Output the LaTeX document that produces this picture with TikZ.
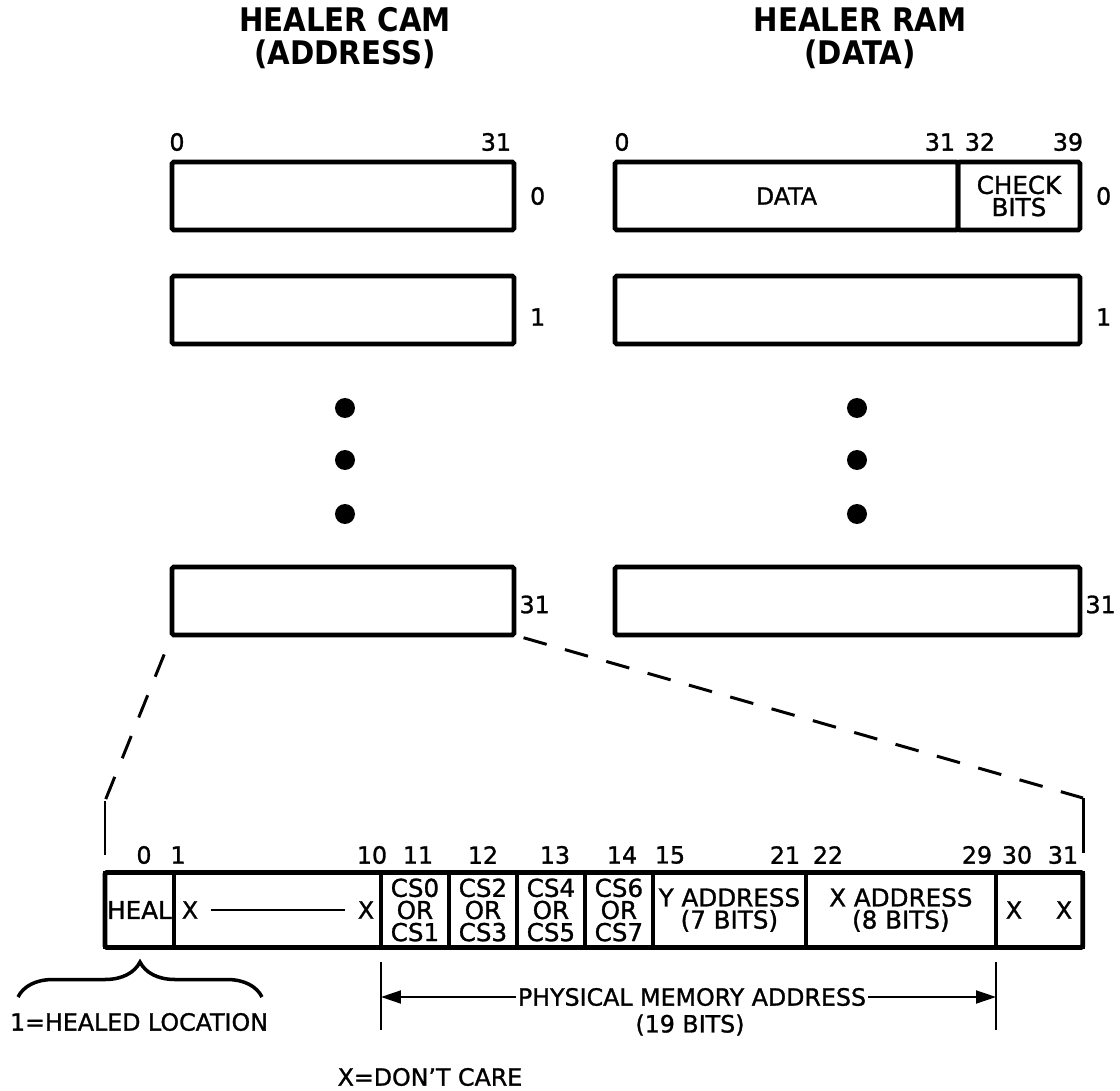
\documentclass[tikz,border=0pt]{standalone}
\usepackage{fontspec}
\setmainfont{DejaVu Sans}[FakeBold=1.2]
\newfontfamily\titlefam{DejaVu Sans Condensed}
\usepackage{tikz}
\usetikzlibrary{positioning,arrows.meta,decorations.pathreplacing}
\newcommand{\numfont}{\fontsize{13.5}{14}\selectfont}
\newcommand{\fieldfont}{\fontsize{14}{12.6}\selectfont}
\newcommand{\titlefont}{\titlefam\fontsize{18.5}{18.7}\selectfont\bfseries}
\tikzstyle{membox} = [draw, line width=2.7pt, rectangle, rounded corners=1pt, minimum height=1.36cm, inner sep=0pt, outer sep=0pt, font=\numfont]
\tikzstyle{field} = [draw, line width=2pt, rectangle, minimum height=1.5cm, inner sep=0pt, outer sep=0pt, align=center, font=\fieldfont]
\tikzstyle{bitnum} = [font=\numfont, inner sep=1pt]
\tikzstyle{memtitle} = [font=\titlefont, align=center, inner sep=0pt]
\tikzstyle{dot} = [circle, fill, minimum size=0.4cm, inner sep=0pt]
\tikzstyle{zoomline} = [line width=1.7pt, dash pattern=on 0.48cm off 0.4cm]
\tikzstyle{arrowline} = [line width=1.1pt, -{Triangle[length=0.4cm,width=0.26cm]}]

\begin{document}
\begin{tikzpicture}[x=0.02cm,y=-0.02cm]
\useasboundingbox (0,0) rectangle (1120,1091);

% titles
\node[memtitle] (camtitle) at (345,38) {HEALER CAM\\(ADDRESS)};
\node[memtitle] (ramtitle) at (860,38) {HEALER RAM\\(DATA)};

% CAM words
\node[membox, minimum width=6.84cm] (cam0) at (343,196) {};
\node[membox, minimum width=6.84cm] (cam1) at (343,310) {};
\node[membox, minimum width=6.84cm] (cam31) at (343,601) {};
\node[bitnum] (camb0) at (177,142) {0};
\node[bitnum] (camb31) at (496,142) {31};
\node[bitnum, right=8pt of cam0] (camw0) {0};
\node[bitnum, right=8pt of cam1, yshift=-4pt] (camw1) {1};
\node[bitnum, right=2pt of cam31, yshift=-2pt] (camw31) {31};
\foreach \y/\n in {408/1,460/2,514/3}
  \node[dot] (camdot\n) at (345,\y) {};

% RAM words
\node[membox, minimum width=6.86cm] (ram0data) at (786.5,196) {DATA};
\node[membox, minimum width=2.44cm, right=0pt of ram0data, align=center, font=\fieldfont] (ram0chk) {CHECK\\BITS};
\node[membox, minimum width=9.3cm] (ram1) at (847.5,310) {};
\node[membox, minimum width=9.3cm] (ram31) at (847.5,601) {};
\node[bitnum] (ramb0) at (622,142) {0};
\node[bitnum] (ramb31) at (940,142) {31};
\node[bitnum] (ramb32) at (980,142) {32};
\node[bitnum] (ramb39) at (1068,142) {39};
\node[bitnum, right=8pt of ram0chk] (ramw0) {0};
\node[bitnum, right=8pt of ram1, yshift=-4pt] (ramw1) {1};
\node[bitnum, right=2pt of ram31, yshift=-2pt] (ramw31) {31};
\foreach \y/\n in {408/1,460/2,514/3}
  \node[dot] (ramdot\n) at (857,\y) {};

% expanded CAM word
\node[field, minimum width=1.38cm] (heal) at (139.5,910) {HEAL};
\node[field, minimum width=4.14cm, right=0pt of heal] (xs) {};
\node[field, minimum width=1.36cm, right=0pt of xs] (cs0) {CS0\\OR\\CS1};
\node[field, minimum width=1.36cm, right=0pt of cs0] (cs2) {CS2\\OR\\CS3};
\node[field, minimum width=1.36cm, right=0pt of cs2] (cs4) {CS4\\OR\\CS5};
\node[field, minimum width=1.36cm, right=0pt of cs4] (cs6) {CS6\\OR\\CS7};
\node[field, minimum width=3.06cm, right=0pt of cs6] (yaddr) {Y ADDRESS\\(7 BITS)};
\node[field, minimum width=3.8cm, right=0pt of yaddr] (xaddr) {X ADDRESS\\(8 BITS)};
\node[field, minimum width=1.74cm, right=0pt of xaddr] (xx) {};
\draw[line width=2.7pt, rounded corners=1pt] (heal.north west) rectangle (xx.south east);
\node[bitnum] (xl) at (190,910) {X};
\node[bitnum] (xr) at (366,910) {X};
\draw[line width=1.1pt, shorten <=6pt, shorten >=6pt] (xl) -- (xr);
\node[bitnum] (xx1) at (1014,910) {X};
\node[bitnum] (xx2) at (1064,910) {X};
\foreach \x/\b in {144/0,178/1,372/10,418/11,483/12,555/13,622/14,670/15,785/21,828/22,977/29,1017/30,1063/31}
  \node[bitnum] (reg\b) at (\x,855) {\b};

% zoom lines
\coordinate (lbend) at (105,801);
\coordinate (ltick) at (105,855);
\coordinate (rbend) at (1083,798);
\coordinate (rtick) at (1083,853);
\draw[zoomline, shorten <=0.42cm] (cam31.south west) -- (lbend);
\draw[line width=1.7pt] (lbend) -- (ltick);
\draw[zoomline, dash pattern=on 0.48cm off 0.38cm, shorten <=0.2cm] (cam31.south east) -- (rbend);
\draw[line width=1.7pt] (rbend) -- (rtick);

% heal bit note
\coordinate (bracel) at (18,997);
\coordinate (bracer) at (262,997);
\draw[line width=2pt, decorate, decoration={brace, amplitude=0.7cm}] (bracel) -- (bracer);
\node[bitnum] (healnote) at (139,1022) {1=HEALED LOCATION};

% physical address span
\coordinate (pmal1) at (381,962);
\coordinate (pmal2) at (381,1030);
\coordinate (pmar1) at (996,962);
\coordinate (pmar2) at (996,1030);
\draw[line width=1.5pt] (pmal1) -- (pmal2);
\draw[line width=1.5pt] (pmar1) -- (pmar2);
\node[bitnum] (pma) at (692,997) {PHYSICAL MEMORY ADDRESS};
\node[bitnum] (pmabits) at (690,1025) {(19 BITS)};
\draw[arrowline] (pma.west) -- (pma.west -| pmal1);
\draw[arrowline] (pma.east) -- (pma.east -| pmar1);

\node[bitnum] (dontcare) at (430,1077) {X=DON'T CARE};
\end{tikzpicture}
\end{document}
